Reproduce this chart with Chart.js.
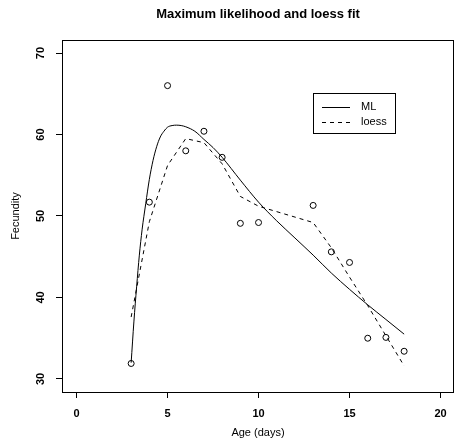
<!DOCTYPE html>
<html>
<head>
<meta charset="utf-8">
<script src="https://cdn.jsdelivr.net/npm/chart.js@4.4.0/dist/chart.umd.min.js"></script>
<style>
  body { margin: 0; background: #fff; }
  canvas { display: block; }
</style>
</head>
<body>
<canvas id="myChart" width="454" height="448"></canvas>
<script>
// observed data
const ages = [3, 4, 5, 6, 7, 8, 9, 10, 13, 14, 15, 16, 17, 18];
const fecundity = [31.9, 51.7, 66.0, 58.0, 60.4, 57.2, 49.1, 49.2, 51.3, 45.6, 44.3, 35.0, 35.1, 33.4];

// loess fitted values at the observed ages
const loessFit = [37.6, 49.3, 56.2, 59.5, 59.0, 56.4, 52.4, 51.2, 49.2, 46.1, 42.5, 39.0, 35.3, 31.6];

// maximum likelihood curve
const mlAges = [3, 3.15, 3.3, 3.45, 3.6, 3.8, 4, 4.2, 4.4, 4.6, 4.8, 5, 5.25, 5.5, 5.75, 6, 6.5, 7, 7.5, 8, 9, 10, 11, 12, 13, 14, 15, 16, 17, 18];
const mlFit = [32.0, 37.0, 41.3, 45.2, 48.3, 51.5, 54.5, 56.8, 58.5, 59.7, 60.4, 60.9, 61.1, 61.15, 61.1, 60.95, 60.4, 59.4, 58.4, 57.2, 54.4, 51.7, 49.4, 47.3, 45.2, 43.0, 41.0, 39.1, 37.3, 35.5];

const xTicks = [0, 5, 10, 15, 20];
const yTicks = [30, 40, 50, 60, 70];
const legendItems = ['ML', 'loess'];

const FONT = "'Liberation Sans', Arial, Helvetica, sans-serif";
Chart.defaults.font.family = FONT;
Chart.defaults.font.size = 11;
Chart.defaults.color = '#000';

function pairs(xs, ys) {
    return xs.map((x, i) => ({ x: x, y: ys[i] }));
}

// box round the plot region + legend, R style
const frame = {
    id: 'frame',
    afterDraw(chart) {
        const ctx = chart.ctx;
        const a = chart.chartArea;
        ctx.save();
        ctx.strokeStyle = '#000';
        ctx.lineWidth = 1;
        ctx.strokeRect(Math.round(a.left) + 0.5, Math.round(a.top) + 0.5,
            Math.round(a.right - a.left) - 1, Math.round(a.bottom - a.top));

        ctx.strokeRect(313.5, 93.5, 82, 40);
        ctx.font = '11px ' + FONT;
        ctx.fillStyle = '#000';
        ctx.textBaseline = 'middle';
        legendItems.forEach((name, i) => {
            const ds = chart.data.datasets.find(d => d.label === name);
            const y = 107 + i * 15;
            ctx.setLineDash(ds.borderDash || []);
            ctx.beginPath();
            ctx.moveTo(322, y + 0.5);
            ctx.lineTo(350, y + 0.5);
            ctx.stroke();
            ctx.setLineDash([]);
            ctx.fillText(name, 361, y);
        });
        ctx.restore();
    }
};

const config = {
    type: 'scatter',
    data: {
        datasets: [
            {
                label: 'ML',
                data: pairs(mlAges, mlFit),
                showLine: true,
                borderColor: '#000',
                borderWidth: 1,
                pointRadius: 0,
                cubicInterpolationMode: 'monotone',
                fill: false
            },
            {
                label: 'loess',
                data: pairs(ages, loessFit),
                showLine: true,
                borderColor: '#000',
                borderWidth: 1,
                borderDash: [4, 4],
                pointRadius: 0,
                tension: 0,
                fill: false
            },
            {
                label: 'data',
                data: pairs(ages, fecundity),
                showLine: false,
                pointStyle: 'circle',
                pointRadius: 3,
                borderWidth: 1,
                borderColor: '#000',
                backgroundColor: 'rgba(0,0,0,0)'
            }
        ]
    },
    options: {
        responsive: false,
        animation: false,
        devicePixelRatio: 1,
        layout: { padding: 0, autoPadding: false },
        plugins: {
            legend: { display: false },
            tooltip: { enabled: false },
            title: {
                display: true,
                text: 'Maximum likelihood and loess fit',
                fullSize: false,
                font: { size: 13, weight: 'bold' },
                padding: { top: 7, bottom: 17.4 }
            }
        },
        scales: {
            x: {
                type: 'linear',
                min: -0.8,
                max: 20.74,
                afterBuildTicks: s => { s.ticks = xTicks.map(v => ({ value: v })); },
                afterFit: s => { s.height = 56; s.paddingLeft = 0; s.paddingRight = 0; },
                border: { display: false },
                grid: { drawOnChartArea: false, drawTicks: true, tickLength: 6, color: '#000' },
                ticks: { padding: 9, maxRotation: 0, autoSkip: false, font: { weight: 'bold' } },
                title: { display: true, text: 'Age (days)', font: { size: 11 }, padding: { top: 0, bottom: 8 } }
            },
            y: {
                type: 'linear',
                min: 28.4,
                max: 71.6,
                afterBuildTicks: s => { s.ticks = yTicks.map(v => ({ value: v })); },
                afterFit: s => { s.width = 62; s.paddingTop = 0; s.paddingBottom = 0; },
                border: { display: false },
                grid: { drawOnChartArea: false, drawTicks: true, tickLength: 6, color: '#000' },
                ticks: { padding: 9, minRotation: 90, maxRotation: 90, crossAlign: 'center', autoSkip: false, font: { weight: 'bold' } },
                title: { display: true, text: 'Fecundity', font: { size: 11 }, padding: { top: 9.4, bottom: 0 } }
            }
        }
    },
    plugins: [frame]
};

const myChart = new Chart(document.getElementById('myChart'), config);
</script>
</body>
</html>
